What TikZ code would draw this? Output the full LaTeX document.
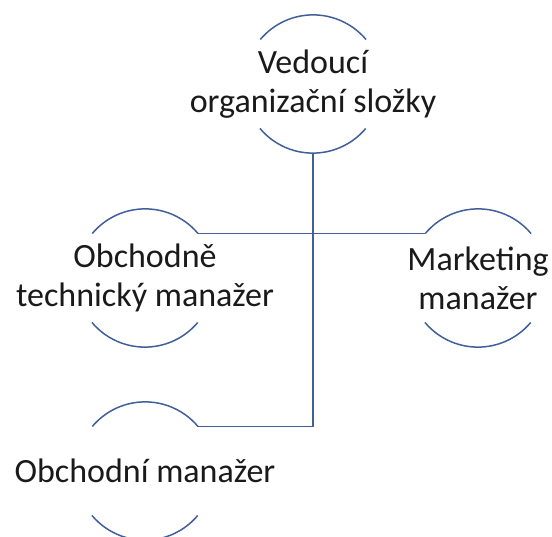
\documentclass[tikz,border=0pt]{standalone}
\usepackage{fontspec}
\setmainfont{Carlito}
\definecolor{ringblue}{HTML}{41609A}
\definecolor{txt}{HTML}{1A1A1A}
\begin{document}
\begin{tikzpicture}[x=1pt,y=-1pt,
  ring/.style={circle,draw=none,minimum size=138pt,inner sep=0pt},
  lbl/.style={align=center,text=txt,font=\fontsize{34}{39}\selectfont,inner sep=0pt},
  arcline/.style={draw=ringblue,line width=1.5pt},
  conn/.style={draw=ringblue,line width=1.5pt}]
\useasboundingbox (0,0) rectangle (552,537);
% rings
\node[ring] (rA) at (313,84) {};
\node[ring] (rB) at (145,278) {};
\node[ring] (rC) at (478,278) {};
\node[ring] (rD) at (145,471) {};
% arcs
\foreach \r in {rA,rB,rC,rD}{
  \draw[arcline] (\r.40) arc[start angle=40,end angle=140,radius=69pt];
  \draw[arcline] (\r.220) arc[start angle=220,end angle=320,radius=69pt];
}
% labels
\node[lbl] (tA) at (rA.center) {Vedoucí\\organizační složky};
\node[lbl] (tB) at (rB.center) {Obchodně\\technický manažer};
\node[lbl] (tC) at (rC.center) {Marketing\\manažer};
\node[lbl] (tD) at (rD.center) {Obchodní manažer};
% connectors
\draw[conn] (rB.40) -- (rC.140);
\draw[conn] (rA.south) |- (rD.40);
\end{tikzpicture}
\end{document}
